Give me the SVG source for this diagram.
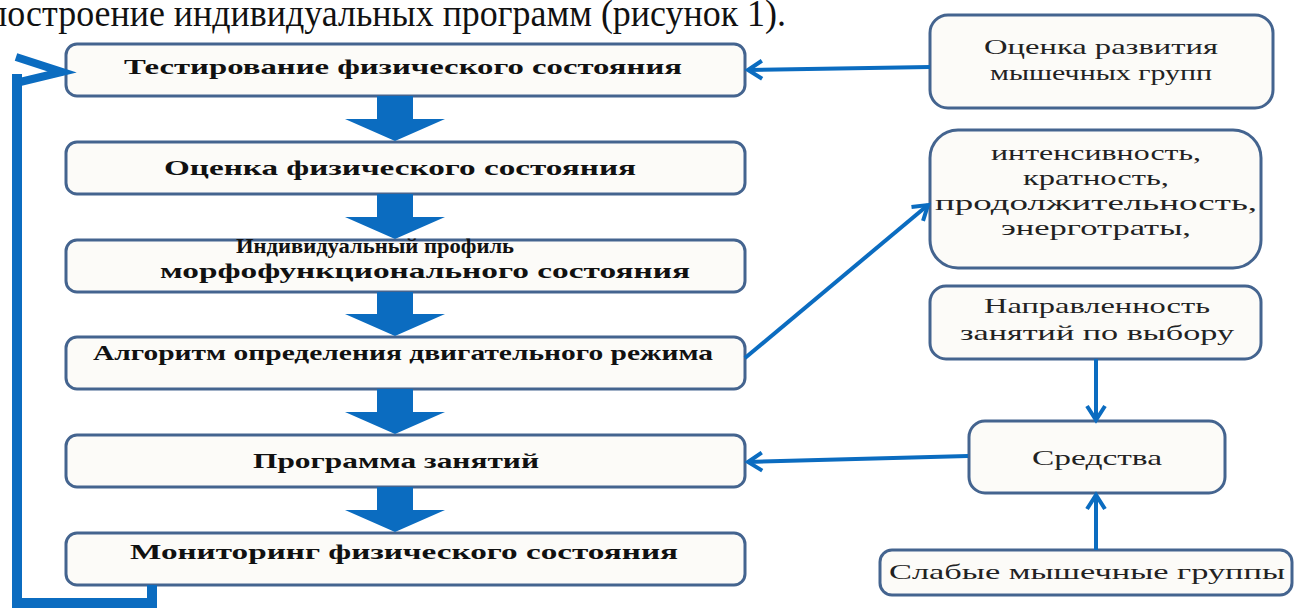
<svg xmlns="http://www.w3.org/2000/svg" width="1296" height="608" viewBox="0 0 1296 608">
<defs>
<style>
.box{fill:#fcfbf8;stroke:#44648f;stroke-width:3}
.lt{font-family:"Liberation Serif","DejaVu Serif",serif;font-weight:bold;font-size:21px;fill:#111;text-anchor:middle}
.rt{font-family:"Liberation Serif","DejaVu Serif",serif;font-size:22px;fill:#222;text-anchor:middle}
.con{fill:none;stroke:#0b6cc0;stroke-width:4}
.blk{fill:#0b6cc0}
</style>
<marker id="ah" markerUnits="userSpaceOnUse" markerWidth="22" markerHeight="22" refX="17" refY="11" orient="auto" viewBox="0 0 22 22">
<path d="M3,2 L17,11 L3,20" fill="none" stroke="#0b6cc0" stroke-width="4"/>
</marker>
</defs>
<rect width="1296" height="608" fill="#ffffff"/>
<text x="-12" y="26" font-family="Liberation Serif, serif" font-size="38" fill="#111" textLength="798" lengthAdjust="spacingAndGlyphs">построение индивидуальных программ (рисунок 1).</text>

<g id="n1"><rect class="box" x="66" y="44" width="679" height="52" rx="11"/><text class="lt" x="403" y="74" textLength="558" lengthAdjust="spacingAndGlyphs">Тестирование физического состояния</text></g>
<g id="n2"><rect class="box" x="66" y="142" width="679" height="52" rx="11"/><text class="lt" x="400" y="175" textLength="472" lengthAdjust="spacingAndGlyphs">Оценка физического состояния</text></g>
<g id="n3"><rect class="box" x="66" y="240" width="679" height="52" rx="11"/><text class="lt" x="375" y="253" font-size="17" textLength="278" lengthAdjust="spacingAndGlyphs">Индивидуальный профиль</text><text class="lt" x="425" y="278" font-size="19" textLength="530" lengthAdjust="spacingAndGlyphs">морфофункционального состояния</text></g>
<g id="n4"><rect class="box" x="66" y="337" width="679" height="52" rx="11"/><text class="lt" x="403" y="360" textLength="620" lengthAdjust="spacingAndGlyphs">Алгоритм определения двигательного режима</text></g>
<g id="n5"><rect class="box" x="66" y="435" width="679" height="52" rx="11"/><text class="lt" x="396" y="468" textLength="286" lengthAdjust="spacingAndGlyphs">Программа занятий</text></g>
<g id="n6"><rect class="box" x="66" y="533" width="679" height="52" rx="11"/><text class="lt" x="404" y="559" textLength="548" lengthAdjust="spacingAndGlyphs">Мониторинг физического состояния</text></g>

<g id="r1"><rect class="box" x="930" y="15" width="343" height="93" rx="18"/><text class="rt" x="1101" y="54" textLength="234" lengthAdjust="spacingAndGlyphs">Оценка развития</text><text class="rt" x="1101" y="80" textLength="222" lengthAdjust="spacingAndGlyphs">мышечных групп</text></g>
<g id="r2"><rect class="box" x="930" y="130" width="331" height="138" rx="28"/><text class="rt" x="1096" y="160" textLength="210" lengthAdjust="spacingAndGlyphs">интенсивность,</text><text class="rt" x="1096" y="185" textLength="146" lengthAdjust="spacingAndGlyphs">кратность,</text><text class="rt" x="1096" y="210" textLength="322" lengthAdjust="spacingAndGlyphs">продолжительность,</text><text class="rt" x="1096" y="235" textLength="190" lengthAdjust="spacingAndGlyphs">энерготраты,</text></g>
<g id="r3"><rect class="box" x="930" y="286" width="331" height="73" rx="16"/><text class="rt" x="1097" y="313" textLength="226" lengthAdjust="spacingAndGlyphs">Направленность</text><text class="rt" x="1097" y="340" textLength="274" lengthAdjust="spacingAndGlyphs">занятий по выбору</text></g>
<g id="r4"><rect class="box" x="969" y="421" width="256" height="72" rx="16"/><text class="rt" x="1097" y="465" textLength="130" lengthAdjust="spacingAndGlyphs">Средства</text></g>
<g id="r5"><rect class="box" x="880" y="550" width="412" height="45" rx="12"/><text class="rt" x="1087" y="579" textLength="396" lengthAdjust="spacingAndGlyphs">Слабые мышечные группы</text></g>

<g id="connectors">
<path class="blk" d="M377,96 H413 V119 H445 L395,141 L345,119 H377 Z"/>
<path class="blk" d="M377,194 H413 V217 H445 L395,239 L345,217 H377 Z"/>
<path class="blk" d="M377,292 H413 V314 H445 L395,336 L345,314 H377 Z"/>
<path class="blk" d="M377,389 H413 V412 H445 L395,434 L345,412 H377 Z"/>
<path class="blk" d="M377,487 H413 V510 H445 L395,532 L345,510 H377 Z"/>
<path d="M152,585 V603 H17 V74" fill="none" stroke="#0b6cc0" stroke-width="10"/>
<polyline points="16,57 62,72 20,82" fill="none" stroke="#0b6cc0" stroke-width="8" stroke-linejoin="miter"/>
<line class="con" x1="930" y1="67" x2="748" y2="70" marker-end="url(#ah)"/>
<line class="con" x1="745" y1="358" x2="928" y2="205" marker-end="url(#ah)"/>
<line class="con" x1="968" y1="456" x2="748" y2="462" marker-end="url(#ah)"/>
<line class="con" x1="1096" y1="359" x2="1096" y2="420" marker-end="url(#ah)"/>
<line class="con" x1="1096" y1="550" x2="1096" y2="495" marker-end="url(#ah)"/>
</g>
</svg>
